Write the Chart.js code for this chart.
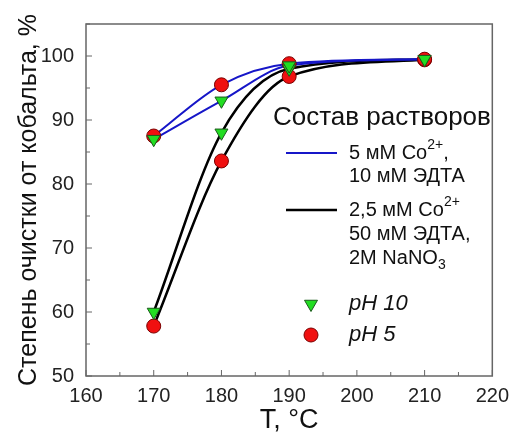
<!DOCTYPE html>
<html>
<head>
<meta charset="utf-8">
<script src="https://cdn.jsdelivr.net/npm/chart.js@4.4.0/dist/chart.umd.min.js"></script>
<style>
  html, body { margin: 0; padding: 0; background: #fff; }
  #wrap { width: 517px; height: 437px; }
</style>
</head>
<body>
<div id="wrap"><canvas id="myChart" width="517" height="437"></canvas></div>
<script>
// temperatures, °C
const temps = [170, 180, 190, 210];

// 5 mM Co2+, 10 mM EDTA
const blue_pH5 = [87.5, 95.5, 98.8, 99.5];
const blue_pH10 = [87.0, 93.0, 98.5, 99.5];

// 2.5 mM Co2+, 50 mM EDTA, 2M NaNO3
const black_pH5 = [57.8, 83.6, 96.8, 99.4];
const black_pH10 = [60.0, 88.0, 98.0, 99.5];

const xTicks = [160, 170, 180, 190, 200, 210, 220];
const yTicks = [50, 60, 70, 80, 90, 100];

const FONT = "'Liberation Sans', Arial, sans-serif";
const BLUE = "#1616c8";
const RED = "#f01010";
const GREEN = "#22dd22";

const pts = (ys) => temps.map((t, i) => ({ x: t, y: ys[i] }));

const lineDs = (ys, color, width) => ({
  data: pts(ys),
  showLine: true,
  borderColor: color,
  borderWidth: width,
  pointRadius: 0,
  fill: false,
  cubicInterpolationMode: "monotone",
  order: 10,
});

const circleDs = (ys) => ({
  data: pts(ys),
  showLine: false,
  pointStyle: "circle",
  pointRadius: 7,
  backgroundColor: RED,
  borderColor: "#7a0000",
  borderWidth: 1,
  order: 5,
});

const triDs = (ys) => ({
  data: pts(ys),
  showLine: false,
  pointStyle: "triangle",
  rotation: 180,
  pointRadius: 7.5,
  backgroundColor: GREEN,
  borderColor: "#1a5a1a",
  borderWidth: 1,
  order: 1,
});

// frame + inside ticks
const framePlugin = {
  id: "frame",
  afterDatasetsDraw(chart) {
    const { ctx, chartArea: a, scales } = chart;
    ctx.save();
    ctx.strokeStyle = "#666";
    ctx.lineWidth = 1.5;
    ctx.strokeRect(a.left, a.top, a.right - a.left, a.bottom - a.top);
    ctx.lineWidth = 1;
    ctx.beginPath();
    for (let v = 160; v <= 220; v += 5) {
      const x = scales.x.getPixelForValue(v);
      const len = v % 10 === 0 ? 6 : 4;
      ctx.moveTo(x, a.bottom);
      ctx.lineTo(x, a.bottom - len);
    }
    for (let v = 50; v <= 105; v += 5) {
      const y = scales.y.getPixelForValue(v);
      const len = v % 10 === 0 ? 6 : 4;
      ctx.moveTo(a.left, y);
      ctx.lineTo(a.left + len, y);
    }
    ctx.stroke();
    ctx.restore();
  },
};

// in-plot legend
const legendPlugin = {
  id: "customLegend",
  afterDraw(chart) {
    const { ctx, chartArea: a } = chart;
    const L = a.left, T = a.top;
    ctx.save();
    ctx.fillStyle = "#111";
    ctx.textBaseline = "middle";
    ctx.textAlign = "left";

    ctx.font = "26px " + FONT;
    ctx.fillText("Состав растворов", L + 187, T + 94);

    const sup = (x, y, base, s, after) => {
      ctx.font = "20px " + FONT;
      ctx.fillText(base, x, y);
      let w = ctx.measureText(base).width;
      ctx.font = "14px " + FONT;
      ctx.fillText(s, x + w, y - 8);
      w += ctx.measureText(s).width;
      if (after) {
        ctx.font = "20px " + FONT;
        ctx.fillText(after, x + w, y);
      }
    };
    const sub = (x, y, base, s) => {
      ctx.font = "20px " + FONT;
      ctx.fillText(base, x, y);
      const w = ctx.measureText(base).width;
      ctx.font = "14px " + FONT;
      ctx.fillText(s, x + w, y + 7);
    };

    // blue entry
    ctx.strokeStyle = BLUE;
    ctx.lineWidth = 2;
    ctx.beginPath();
    ctx.moveTo(L + 200, T + 129);
    ctx.lineTo(L + 251, T + 129);
    ctx.stroke();
    sup(L + 263, T + 129, "5 мМ Co", "2+", ",");
    ctx.font = "20px " + FONT;
    ctx.fillText("10 мМ ЭДТА", L + 263, T + 152);

    // black entry
    ctx.strokeStyle = "#000";
    ctx.lineWidth = 2.5;
    ctx.beginPath();
    ctx.moveTo(L + 200, T + 186);
    ctx.lineTo(L + 251, T + 186);
    ctx.stroke();
    sup(L + 263, T + 186, "2,5 мМ Co", "2+", "");
    ctx.font = "20px " + FONT;
    ctx.fillText("50 мМ ЭДТА,", L + 263, T + 210);
    sub(L + 263, T + 234, "2M NaNO", "3");

    // marker entries
    const mx = L + 225;
    const ty = T + 280;
    const r = 7.5;
    ctx.beginPath();
    ctx.moveTo(mx - r * 0.866, ty - r * 0.5);
    ctx.lineTo(mx + r * 0.866, ty - r * 0.5);
    ctx.lineTo(mx, ty + r);
    ctx.closePath();
    ctx.fillStyle = GREEN;
    ctx.fill();
    ctx.strokeStyle = "#1a5a1a";
    ctx.lineWidth = 1;
    ctx.stroke();

    const cy = T + 311;
    ctx.beginPath();
    ctx.arc(mx, cy, 7, 0, Math.PI * 2);
    ctx.fillStyle = RED;
    ctx.fill();
    ctx.strokeStyle = "#7a0000";
    ctx.stroke();

    ctx.fillStyle = "#111";
    ctx.font = "italic 22px " + FONT;
    ctx.fillText("pH 10", L + 263, ty);
    ctx.fillText("pH 5", L + 263, cy);
    ctx.restore();
  },
};

new Chart(document.getElementById("myChart").getContext("2d"), {
  type: "scatter",
  data: {
    datasets: [
      lineDs(blue_pH5, BLUE, 2),
      lineDs(blue_pH10, BLUE, 2),
      lineDs(black_pH5, "#000", 2.5),
      lineDs(black_pH10, "#000", 2.5),
      circleDs(blue_pH5),
      circleDs(black_pH5),
      triDs(blue_pH10),
      triDs(black_pH10),
    ],
  },
  options: {
    responsive: false,
    animation: false,
    layout: { padding: { top: 22, right: 19, left: 0, bottom: 0 } },
    plugins: { legend: { display: false }, tooltip: { enabled: false } },
    scales: {
      x: {
        type: "linear",
        min: 160,
        max: 220,
        afterBuildTicks: (s) => { s.ticks = xTicks.map((v) => ({ value: v })); },
        afterFit: (s) => { s.height = 61; },
        grid: { display: false, drawTicks: false },
        border: { display: false },
        ticks: { padding: 8, color: "#222", font: { family: FONT, size: 20 } },
        title: {
          display: true,
          text: "T, °C",
          color: "#111",
          font: { family: FONT, size: 27 },
          padding: { top: 0, bottom: 0 },
        },
      },
      y: {
        type: "linear",
        min: 50,
        max: 105,
        afterBuildTicks: (s) => { s.ticks = yTicks.map((v) => ({ value: v })); },
        afterFit: (s) => { s.width = 86; },
        grid: { display: false, drawTicks: false },
        border: { display: false },
        ticks: { padding: 12, color: "#222", font: { family: FONT, size: 20 } },
        title: {
          display: true,
          text: "Степень очистки от кобальта, %",
          color: "#111",
          font: { family: FONT, size: 25 },
          padding: { top: 14, bottom: 0 },
        },
      },
    },
  },
  plugins: [framePlugin, legendPlugin],
});
</script>
</body>
</html>
